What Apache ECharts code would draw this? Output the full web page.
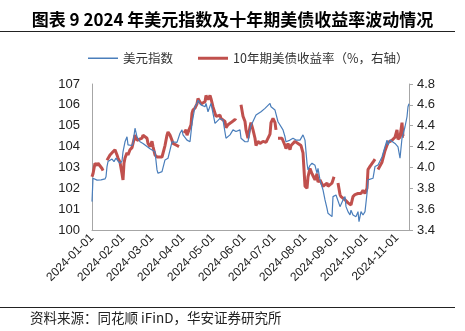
<!DOCTYPE html>
<html><head><meta charset="utf-8">
<script src="https://cdn.jsdelivr.net/npm/echarts@6/dist/echarts.min.js"></script>
<style>html,body{margin:0;padding:0;background:#fff}#c{width:465px;height:331px}</style>
</head><body><div id="c"></div>
<script>
const titleText = '图表 9 2024 年美元指数及十年期美债收益率波动情况';
const sourceText = '资料来源：同花顺 iFinD，华安证券研究所';
const seriesNames = ['美元指数', '10年期美债收益率（%，右轴）'];
const leftTicks = [100, 107, 1];
const rightTicks = [3.4, 4.8, 0.2];

const dxyDates = ['2024-01-01','2024-01-02','2024-01-04','2024-01-06','2024-01-08','2024-01-10','2024-01-12','2024-01-14','2024-01-15','2024-01-16','2024-01-17','2024-01-19','2024-01-21','2024-01-23','2024-01-25','2024-01-27','2024-01-29','2024-01-31',
'2024-02-01','2024-02-03','2024-02-05','2024-02-06','2024-02-08','2024-02-10','2024-02-11','2024-02-13','2024-02-15','2024-02-18','2024-02-21','2024-02-25','2024-02-28',
'2024-03-01','2024-03-04','2024-03-06','2024-03-07','2024-03-11','2024-03-12','2024-03-14','2024-03-17','2024-03-19','2024-03-21','2024-03-22','2024-03-26','2024-03-29','2024-03-31',
'2024-04-01','2024-04-05','2024-04-08','2024-04-10','2024-04-13','2024-04-15','2024-04-16','2024-04-19','2024-04-23','2024-04-24','2024-04-26','2024-04-29',
'2024-05-03','2024-05-04','2024-05-08','2024-05-11','2024-05-14','2024-05-18','2024-05-21','2024-05-24','2024-05-28','2024-05-29',
'2024-06-02','2024-06-03','2024-06-05','2024-06-07','2024-06-08','2024-06-13','2024-06-15','2024-06-18','2024-06-22','2024-06-23','2024-06-27','2024-06-28',
'2024-07-02','2024-07-05','2024-07-07','2024-07-10','2024-07-12','2024-07-13','2024-07-17','2024-07-20','2024-07-23','2024-07-27','2024-07-30',
'2024-08-01','2024-08-03','2024-08-04','2024-08-06','2024-08-08','2024-08-11','2024-08-13','2024-08-14','2024-08-16','2024-08-18','2024-08-19','2024-08-21','2024-08-23','2024-08-24','2024-08-26','2024-08-28','2024-08-29','2024-08-31',
'2024-09-01','2024-09-03','2024-09-05','2024-09-06','2024-09-08','2024-09-10','2024-09-11','2024-09-13','2024-09-15','2024-09-16','2024-09-18','2024-09-20','2024-09-21','2024-09-23','2024-09-24','2024-09-26','2024-09-28','2024-09-30',
'2024-10-02','2024-10-03','2024-10-05','2024-10-08','2024-10-10','2024-10-13','2024-10-17','2024-10-20','2024-10-22','2024-10-23','2024-10-25','2024-10-27','2024-10-30',
'2024-11-01','2024-11-02','2024-11-04','2024-11-06','2024-11-07','2024-11-09','2024-11-11','2024-11-12','2024-11-13'];
const dxyValues = [101.36,102.48,102.55,102.39,102.45,102.40,102.32,102.45,102.55,103.04,103.28,103.30,103.40,103.28,103.45,103.30,103.20,103.30,
103.75,104.23,104.47,104.08,104.08,104.05,104.15,104.88,104.47,104.23,104.15,104.00,103.90,
103.98,103.75,102.88,102.72,102.80,102.88,103.36,103.44,103.52,104.23,104.31,104.20,104.64,104.80,
104.56,104.31,104.23,105.11,105.91,106.07,106.23,106.00,105.91,106.07,105.67,106.07,
105.11,105.11,105.35,105.27,104.40,104.56,104.80,104.72,104.80,104.40,
104.23,104.15,104.23,104.80,105.00,105.51,105.43,105.67,105.83,105.75,106.07,105.91,
105.75,105.19,105.11,104.80,104.47,104.23,104.31,104.40,104.31,104.31,104.56,
104.31,103.20,102.88,103.10,103.20,103.10,102.72,102.95,102.40,102.08,101.92,101.44,101.04,100.80,100.88,100.64,101.60,101.68,
101.68,101.60,101.12,101.20,101.44,101.60,101.12,100.88,100.72,100.95,100.72,100.80,100.64,100.88,100.40,100.88,100.72,100.88,
101.75,102.40,102.48,102.48,103.04,103.12,103.50,103.99,104.31,104.08,104.31,104.40,104.15,
104.23,103.99,103.44,104.40,104.56,104.95,105.43,105.91,106.05];

const ustDates = ['2024-01-01','2024-01-02','2024-01-04','2024-01-06','2024-01-07','2024-01-09','2024-01-11','2024-01-12','2024-01-13','2024-01-16','2024-01-19','2024-01-22','2024-01-24','2024-01-26','2024-01-27','2024-01-29','2024-01-31',
'2024-02-01','2024-02-02','2024-02-03','2024-02-05','2024-02-06','2024-02-08','2024-02-10','2024-02-11','2024-02-13','2024-02-15','2024-02-16','2024-02-20','2024-02-21','2024-02-25','2024-02-26','2024-02-28',
'2024-03-01','2024-03-02','2024-03-04','2024-03-06','2024-03-07','2024-03-11','2024-03-14','2024-03-16','2024-03-17','2024-03-19','2024-03-21','2024-03-22','2024-03-26','2024-03-28','2024-03-30',
'2024-04-02','2024-04-04','2024-04-05','2024-04-07','2024-04-09','2024-04-10','2024-04-11','2024-04-13','2024-04-15','2024-04-16','2024-04-19','2024-04-23','2024-04-24','2024-04-26','2024-04-28','2024-04-29',
'2024-05-01','2024-05-03','2024-05-04','2024-05-08','2024-05-09','2024-05-11','2024-05-13','2024-05-14','2024-05-16','2024-05-19','2024-05-23','2024-05-24','2024-05-26','2024-05-29','2024-05-31',
'2024-06-02','2024-06-03','2024-06-05','2024-06-07','2024-06-08','2024-06-10','2024-06-12','2024-06-13','2024-06-15','2024-06-17','2024-06-20','2024-06-23','2024-06-25','2024-06-27','2024-06-28','2024-06-30',
'2024-07-02','2024-07-03','2024-07-04','2024-07-05','2024-07-09','2024-07-12','2024-07-13','2024-07-15','2024-07-17','2024-07-18','2024-07-22','2024-07-25','2024-07-28','2024-07-30',
'2024-08-01','2024-08-03','2024-08-04','2024-08-06','2024-08-08','2024-08-09','2024-08-11','2024-08-13','2024-08-14','2024-08-16','2024-08-18','2024-08-19','2024-08-21','2024-08-23','2024-08-24','2024-08-26','2024-08-28','2024-08-29','2024-08-30',
'2024-09-01','2024-09-03','2024-09-05','2024-09-06','2024-09-08','2024-09-10','2024-09-11','2024-09-13','2024-09-15','2024-09-16','2024-09-18','2024-09-20','2024-09-21','2024-09-23','2024-09-25','2024-09-26','2024-09-28','2024-09-30',
'2024-10-02','2024-10-03','2024-10-05','2024-10-07','2024-10-08','2024-10-10','2024-10-11','2024-10-13','2024-10-17','2024-10-20','2024-10-22','2024-10-23','2024-10-27','2024-10-28','2024-10-30',
'2024-11-01','2024-11-02','2024-11-04','2024-11-06','2024-11-07','2024-11-08'];
const ustValues = [3.91,3.94,4.04,4.02,4.04,4.03,3.99,3.97,null,4.07,4.12,4.15,4.17,4.12,4.09,4.05,3.94,
3.88,4.04,4.09,4.14,4.12,4.17,4.19,4.20,4.31,4.26,4.26,4.28,4.31,4.28,4.23,4.20,
4.25,4.20,4.12,4.10,4.09,4.10,4.21,4.31,4.34,4.31,4.26,4.23,4.21,4.20,null,
4.33,4.36,4.31,4.36,4.41,4.52,4.55,4.57,4.61,4.66,4.61,4.63,4.69,4.65,4.69,4.66,
4.58,4.52,4.49,4.50,4.47,4.47,4.44,4.38,4.41,4.43,4.46,4.45,null,4.60,4.49,
4.44,4.36,4.28,4.39,4.43,4.36,4.28,4.21,4.25,4.23,4.25,4.24,4.25,4.32,4.43,4.47,
4.43,4.36,null,4.28,4.28,4.21,4.18,4.23,4.17,4.21,4.25,4.23,4.21,4.14,
3.82,3.80,3.91,3.99,3.94,3.92,3.88,3.94,3.86,3.88,3.89,3.82,3.83,3.85,3.82,3.83,3.85,3.88,3.91,
null,3.85,3.74,3.72,3.71,3.69,3.68,3.66,3.65,3.64,3.72,3.74,3.74,3.75,3.76,3.75,3.78,3.75,
3.80,3.98,4.01,4.02,4.05,4.08,null,3.98,4.05,4.16,4.17,4.24,4.26,4.27,4.29,
4.36,4.27,4.29,4.43,4.30,4.30];

const axisStart = '2024-01-01';
const axisEnd = '2024-11-13';

const dxyData = dxyDates.map((d, i) => [d, dxyValues[i]]);
const ustData = ustDates.map((d, i) => [d, ustValues[i] == null ? '-' : ustValues[i]]);

const chart = echarts.init(document.getElementById('c'), null, {renderer: 'canvas'});
const DAY = 24 * 3600 * 1000;
chart.setOption({
  animation: false,
  textStyle: {fontFamily: 'Liberation Sans, Arial, sans-serif'},
  title: {
    text: titleText, left: 'center', top: 6,
    textStyle: {fontFamily: 'Noto Sans CJK SC', fontWeight: 'bold', fontSize: 17, color: '#000'}
  },
  graphic: [
    {type: 'line', shape: {x1: 0, y1: 31.5, x2: 455, y2: 31.5}, style: {stroke: '#222', lineWidth: 1}},
    {type: 'line', shape: {x1: 0, y1: 307.5, x2: 455, y2: 307.5}, style: {stroke: '#222', lineWidth: 1}},
    {type: 'text', left: 30, top: 311, style: {text: sourceText, font: '13.5px "Noto Sans CJK SC"', fill: '#222'}}
  ],
  legend: [
    {data: [seriesNames[0]], left: 83, top: 47, itemWidth: 30, itemHeight: 1.5, icon: 'rect', itemGap: 6,
     textStyle: {fontFamily: 'Noto Sans CJK SC', fontSize: 12.5, color: '#333'}},
    {data: [seriesNames[1]], left: 193, top: 47, itemWidth: 30, itemHeight: 3, icon: 'rect',
     textStyle: {fontFamily: 'Noto Sans CJK SC', fontSize: 12.5, color: '#333'}}
  ],
  grid: {left: 92, right: 56, top: 84, bottom: 101, containLabel: false},
  xAxis: {
    type: 'time', min: axisStart, max: axisEnd,
    minInterval: 28 * DAY, maxInterval: 31 * DAY, splitNumber: 11,
    axisLine: {lineStyle: {color: '#a6a6a6', width: 1}},
    axisTick: {show: false},
    splitLine: {show: false},
    axisLabel: {rotate: 45, fontSize: 12, color: '#222', margin: 6,
      formatter: '{yyyy}-{MM}-{dd}', hideOverlap: false, showMaxLabel: false}
  },
  yAxis: [
    {type: 'value', min: leftTicks[0], max: leftTicks[1], interval: leftTicks[2],
     axisLine: {show: true, lineStyle: {color: '#a6a6a6'}}, axisTick: {show: false},
     splitLine: {show: false},
     axisLabel: {fontSize: 13, color: '#222', margin: 12}},
    {type: 'value', min: rightTicks[0], max: rightTicks[1], interval: rightTicks[2],
     axisLine: {show: true, lineStyle: {color: '#a6a6a6'}},
     axisTick: {show: true, length: 4, lineStyle: {color: '#a6a6a6'}},
     splitLine: {show: false},
     axisLabel: {fontSize: 13, color: '#222', margin: 8, formatter: v => v.toFixed(1)}}
  ],
  series: [
    {name: seriesNames[0], type: 'line', yAxisIndex: 0, data: dxyData, showSymbol: false, symbol: 'none',
     lineStyle: {color: '#4a7ebb', width: 1.2}, itemStyle: {color: '#4a7ebb'}, z: 3},
    {name: seriesNames[1], type: 'line', yAxisIndex: 1, data: ustData, showSymbol: false, symbol: 'none',
     connectNulls: false,
     lineStyle: {color: '#c0504d', width: 3}, itemStyle: {color: '#c0504d'}, z: 2}
  ]
});
</script></body></html>
